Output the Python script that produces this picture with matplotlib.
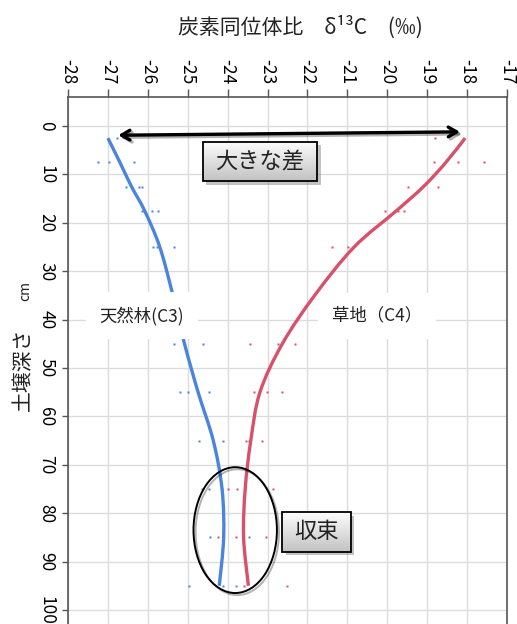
import numpy as np
import matplotlib
matplotlib.use("Agg")
import matplotlib.pyplot as plt
from matplotlib.path import Path
from matplotlib.patches import PathPatch, Ellipse, Rectangle
import matplotlib.patheffects as pe

plt.rcParams['font.family'] = ['Noto Sans CJK JP', 'DejaVu Sans']

# depth of each sampling layer (cm)
depth = [2.5, 7.5, 12.5, 17.5, 25, 35, 45, 55, 65, 75, 85, 95]

# smoothed trend lines
forest_line = [-27.0, -26.70, -26.41, -26.08, -25.70, -25.37, -25.08, -24.74, -24.36, -24.14, -24.10, -24.21]
grass_line = [-18.05, -18.53, -19.09, -19.77, -20.83, -21.82, -22.63, -23.19, -23.42, -23.56, -23.60, -23.48]

# individual samples (depth, delta13C)
forest_pts_d = [2.5, 7.5, 7.5, 7.5, 12.5, 12.5, 12.5, 17.5, 17.5, 17.5, 25, 25, 25,
                35, 35, 35, 45, 45, 55, 55, 55, 65, 65, 75, 75, 75, 85, 85, 95, 95, 95]
forest_pts = [-26.76, -27.24, -26.97, -26.35, -26.55, -26.22, -26.14, -26.14, -25.89, -25.74,
              -25.88, -25.78, -25.34, -25.75, -25.67, -24.86, -25.34, -24.61,
              -25.19, -25.0, -24.46, -24.72, -24.12, -24.65, -24.47, -24.13,
              -24.45, -23.46, -24.98, -24.11, -23.80]
grass_pts_d = [2.5, 7.5, 7.5, 7.5, 12.5, 12.5, 17.5, 17.5, 17.5, 25, 25, 35, 35,
               45, 45, 45, 55, 55, 55, 65, 65, 65, 75, 75, 75, 85, 85, 85, 95, 95]
grass_pts = [-18.80, -18.83, -18.22, -17.57, -19.48, -18.72, -20.06, -19.72, -19.57,
             -21.39, -20.99, -21.49, -21.45, -23.44, -22.73, -22.31,
             -23.34, -23.02, -22.63, -23.54, -23.46, -23.13, -23.98, -23.76, -22.87,
             -24.24, -23.79, -23.04, -23.58, -22.52]

xticks = list(range(-28, -16))
yticks = list(range(0, 101, 10))

BLUE = '#4a84dc'
RED = '#d9506a'


def smooth_path(xs, ys):
    # excel-like smoothed line (catmull-rom -> cubic bezier)
    p = np.column_stack([xs, ys]).astype(float)
    n = len(p)
    verts = [p[0]]
    codes = [Path.MOVETO]
    for i in range(n - 1):
        p0 = p[i - 1] if i > 0 else p[i]
        p3 = p[i + 2] if i + 2 < n else p[i + 1]
        c1 = p[i] + (p[i + 1] - p0) / 6
        c2 = p[i + 1] - (p3 - p[i]) / 6
        verts += [c1, c2, p[i + 1]]
        codes += [Path.CURVE4] * 3
    return Path(verts, codes)


def grad_box(ax, x0, x1, y0, y1, text):
    # shadow + white base, gradient on top, black frame last
    base = Rectangle((x0, y0), x1 - x0, y1 - y0, fc='white', ec='none', zorder=5,
                     path_effects=[pe.SimplePatchShadow(offset=(2.5, -2.5), shadow_rgbFace='#888888', alpha=0.5),
                                   pe.Normal()])
    ax.add_patch(base)
    g = np.linspace(0.99, 0.76, 60).reshape(-1, 1)
    im = ax.imshow(g, cmap='gray', vmin=0, vmax=1, extent=(x0, x1, y1, y0),
                   aspect='auto', zorder=5.1, interpolation='bilinear')
    im.set_clip_path(base)
    ax.add_patch(Rectangle((x0, y0), x1 - x0, y1 - y0, fc='none', ec='black', lw=1.3, zorder=5.2))
    ax.text((x0 + x1) / 2, (y0 + y1) / 2, text, ha='center', va='center',
            fontsize=16, color='#222222', zorder=5.3)


fig = plt.figure(figsize=(5.17, 6.24), dpi=100)
ax = fig.add_axes([68 / 517, 0.0, (507 - 68) / 517, 1 - 97 / 624])

ax.set_xlim(-28, -17)
ax.set_ylim(102.9, -6)
ax.set_xticks(xticks)
ax.set_yticks(yticks)
ax.xaxis.tick_top()
ax.tick_params(axis='x', direction='out', length=6, width=1, color='#555555',
               labelsize=12.5, pad=3, labelrotation=-90)
ax.tick_params(axis='y', direction='out', length=4, width=1, color='#555555',
               labelsize=12.5, pad=5, labelrotation=-90)
for lab in ax.get_yticklabels():
    lab.set_va('center')
ax.set_xticklabels([str(v) for v in xticks])
ax.grid(True, color='#dcdcdc', lw=1)
ax.set_axisbelow(True)
for s in ['left', 'top', 'right']:
    ax.spines[s].set_color('#555555')
    ax.spines[s].set_linewidth(1.2)
ax.spines['bottom'].set_visible(False)

# samples
ax.plot(forest_pts, forest_pts_d, 's', ms=1.7, color=BLUE, mec='none', zorder=3)
ax.plot(grass_pts, grass_pts_d, 's', ms=1.7, color=RED, mec='none', zorder=3)

# trend lines
ax.add_patch(PathPatch(smooth_path(forest_line, depth), fill=False, ec=BLUE, lw=2.4,
                       capstyle='butt', zorder=4))
ax.add_patch(PathPatch(smooth_path(grass_line, depth), fill=False, ec=RED, lw=2.4,
                       capstyle='butt', zorder=4))

# labels (white boxes hide grid and line)
ax.text(-26.15, 39.2, '天然林(C3)', ha='center', va='center', fontsize=12.5, color='#222222',
        zorder=4.5, bbox=dict(fc='white', ec='none', pad=10))
ax.text(-20.26, 39.2, '草地（C4）', ha='center', va='center', fontsize=12.5, color='#222222',
        zorder=4.5, bbox=dict(fc='white', ec='none', pad=10))

# big difference arrow
ax.annotate('', xy=(-18.18, 1.2), xytext=(-26.74, 1.9),
            arrowprops=dict(arrowstyle='<->,head_length=0.6,head_width=0.35', lw=2.4, color='black',
                            shrinkA=0, shrinkB=0,
                            path_effects=[pe.SimpleLineShadow(offset=(1.5, -1.5), alpha=0.3), pe.Normal()]),
            zorder=6)
grad_box(ax, -24.62, -21.76, 3.3, 11.4, '大きな差')

# convergence
ax.add_patch(Ellipse((-23.81, 83.5), 2.09, 26.0, fill=False, ec='black', lw=1.4, zorder=5,
                     path_effects=[pe.SimpleLineShadow(offset=(1.5, -1.5), alpha=0.3), pe.Normal()]))
grad_box(ax, -22.63, -20.91, 79.8, 87.96, '収束')

ax.set_xlim(-28, -17)
ax.set_ylim(102.9, -6)

# titles
fig.text(300 / 517, 1 - 27 / 624, '炭素同位体比　δ¹³C　(‰)', ha='center', va='center',
         fontsize=15, color='#222222')
fig.text(22.5 / 517, 1 - 369 / 624, '土壌深さ', rotation=90, ha='center', va='center',
         fontsize=15, color='#222222')
fig.text(25 / 517, 1 - 291 / 624, 'cm', rotation=90, ha='center', va='center',
         fontsize=10, color='#222222')

fig.savefig('out.png', dpi=100)
